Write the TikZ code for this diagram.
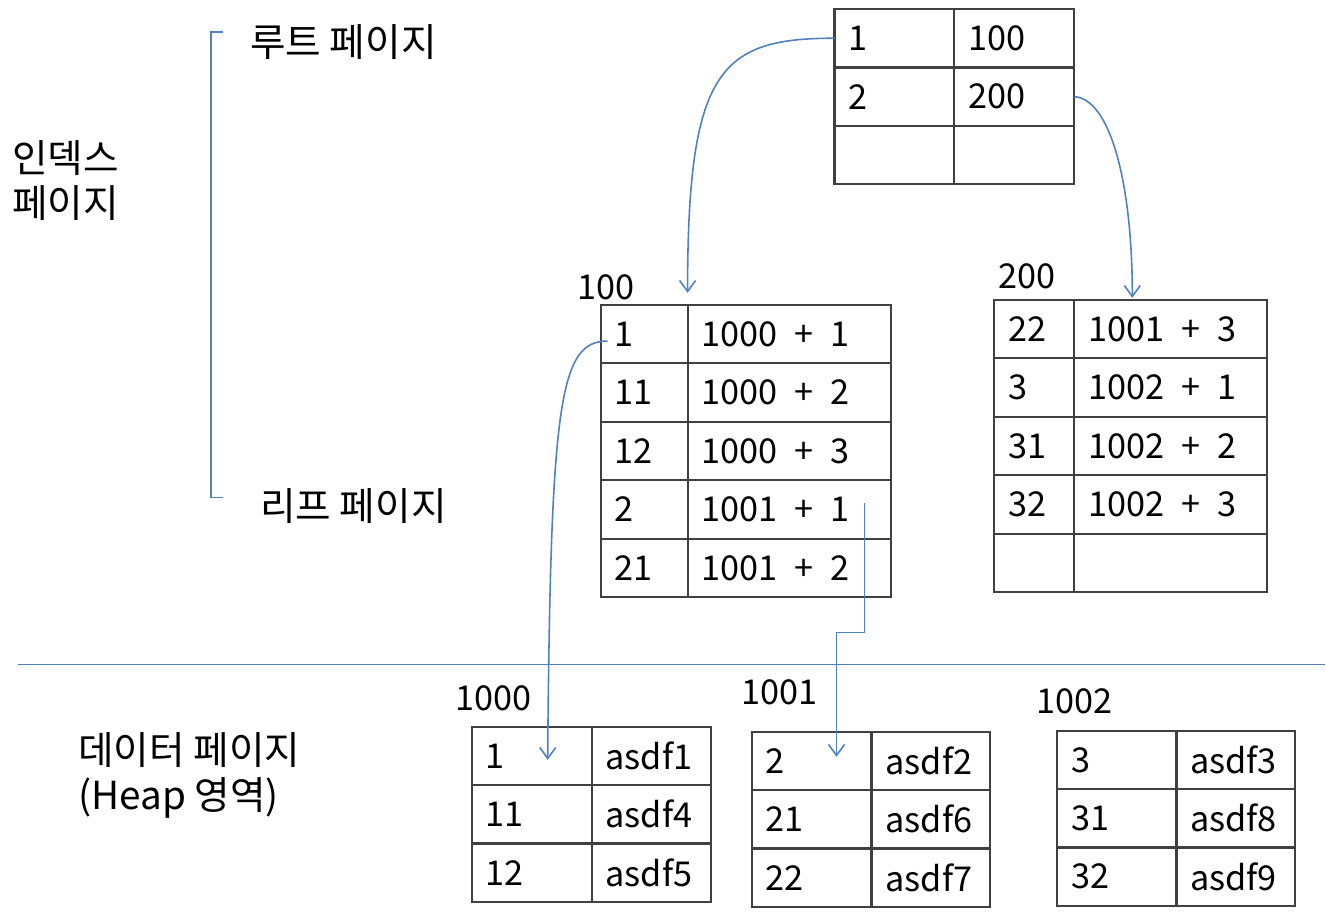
\documentclass[tikz,border=0pt]{standalone}
\usepackage{fontspec}
\setmainfont{Noto Sans CJK KR}
\usepackage{tikz}
\usetikzlibrary{arrows.meta,calc}
\definecolor{linkblue}{RGB}{79,129,189}
\definecolor{tblgray}{RGB}{64,64,64}

\begin{document}
\begin{tikzpicture}[
  x=0.02cm, y=-0.02cm,
  every node/.style={font=\fontsize{19.5}{23}\selectfont},
  cell/.style={draw=tblgray, line width=1.2pt, anchor=north west, outer sep=0pt,
    inner xsep=0.28cm, inner ysep=0pt, minimum height=1.17cm,
    text width=#1, align=left},
  tag/.style={anchor=base west, inner sep=0pt},
  lab/.style={font=\fontsize{22}{25.5}\selectfont, anchor=west, align=left, inner sep=0pt},
  link/.style={draw=linkblue, line width=0.9pt, -{Straight Barb[length=2.2mm, width=3.2mm]}},
  rule/.style={draw=linkblue, line width=0.9pt}
]
  \fill[white] (0,0) rectangle (1326,922);

  % root page
  \foreach \k/\v [count=\i] in {1/100, 2/200, {}/{}} {
    \node[cell=1.84cm] (root-\i-k) at (835, {9+58.5*(\i-1)}) {\k};
    \node[cell=1.84cm] (root-\i-v) at (955, {9+58.5*(\i-1)}) {\v};
  }
  % leaf pages
  \foreach \k/\v [count=\i] in {1/1000\enspace+\enspace1, 11/1000\enspace+\enspace2,
      12/1000\enspace+\enspace3, 2/1001\enspace+\enspace1, 21/1001\enspace+\enspace2} {
    \node[cell=1.18cm] (n100-\i-k) at (601, {305+58.5*(\i-1)}) {\k};
    \node[cell=3.52cm] (n100-\i-v) at (688, {305+58.5*(\i-1)}) {\v};
  }
  \foreach \k/\v [count=\i] in {22/1001\enspace+\enspace3, 3/1002\enspace+\enspace1,
      31/1002\enspace+\enspace2, 32/1002\enspace+\enspace3, {}/{}} {
    \node[cell=1.04cm] (n200-\i-k) at (995, {300+58.5*(\i-1)}) {\k};
    \node[cell=3.30cm] (n200-\i-v) at (1075, {300+58.5*(\i-1)}) {\v};
  }
  % data pages
  \foreach \k/\v [count=\i] in {1/asdf1, 11/asdf4, 12/asdf5} {
    \node[cell=1.84cm] (d1000-\i-k) at (472, {727+58.5*(\i-1)}) {\k};
    \node[cell=1.82cm] (d1000-\i-v) at (592, {727+58.5*(\i-1)}) {\v};
  }
  \foreach \k/\v [count=\i] in {2/asdf2, 21/asdf6, 22/asdf7} {
    \node[cell=1.84cm] (d1001-\i-k) at (752, {732+58.5*(\i-1)}) {\k};
    \node[cell=1.82cm] (d1001-\i-v) at (872, {732+58.5*(\i-1)}) {\v};
  }
  \foreach \k/\v [count=\i] in {3/asdf3, 31/asdf8, 32/asdf9} {
    \node[cell=1.84cm] (d1002-\i-k) at (1058, {731+58.5*(\i-1)}) {\k};
    \node[cell=1.82cm] (d1002-\i-v) at (1177, {731+58.5*(\i-1)}) {\v};
  }

  % page numbers
  \node[tag] (tag-100) at (577,300) {100};
  \node[tag] (tag-200) at (999,289) {200};
  \node[tag] (tag-1000) at (455,711) {1000};
  \node[tag] (tag-1001) at (742,705) {1001};
  \node[tag] (tag-1002) at (1037,714) {1002};

  % side labels
  \node[lab] (root-lab) at (250,42) {루트 페이지};
  \node[lab] (index-lab) at (12,181) {인덱스\\페이지};
  \node[lab] (leaf-lab) at (260,506) {리프 페이지};
  \node[lab] (data-lab) at (78,776) {데이터 페이지\\(Heap 영역)};
  \draw[rule] (223,32) -- (211,32) -- (211,498) -- (223,498);
  \draw[rule] (18,665) -- (1326,665);

  % links
  \draw[link] (root-1-k.west) .. controls +(-115,0) and +(0,-223) ..
    ($(n100-1-k.north east)+(0,-12)$);
  \draw[link] (root-2-v.east) .. controls +(35,2) and +(0,-118) ..
    ($(n200-1-v.north west)+(58,-2)$);
  \draw[link] ($(n100-1-k.west)+(7,7)$) .. controls +(-48,0) and +(3,-360) ..
    ($(d1000-1-k.center)+(16,4)$);
  \draw[link] ($(n100-4-v.center)+(75,-6)$) -- ++(0,129) -|
    ($(d1001-1-k.center)+(25,-4)$);
\end{tikzpicture}
\end{document}
